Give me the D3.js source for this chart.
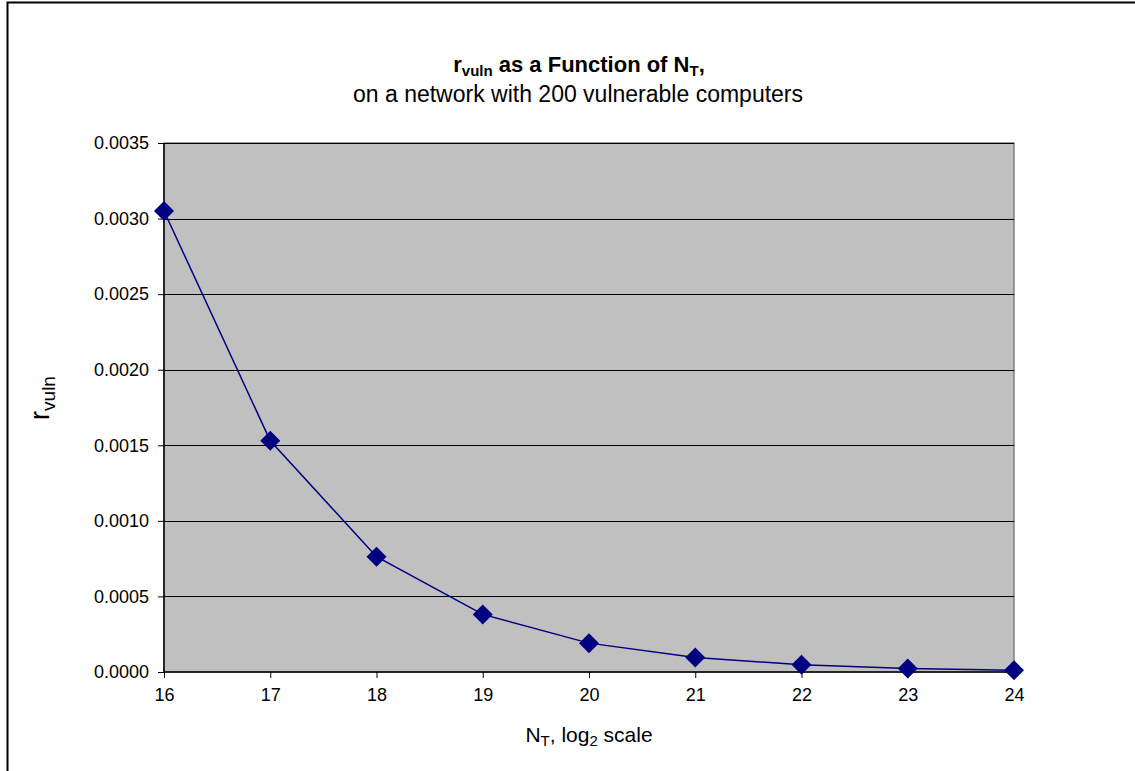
<!DOCTYPE html>
<html>
<head>
<meta charset="utf-8">
<script src="https://cdn.jsdelivr.net/npm/d3@7"></script>
<style>
  body { margin: 0; background: #fff; }
  svg { font-family: "Liberation Sans", Arial, sans-serif; }
</style>
</head>
<body>
<svg id="chart" width="1135" height="771"></svg>
<script>
// data
var nt = [16, 17, 18, 19, 20, 21, 22, 23, 24];
var rvuln = [0.00305, 0.00153, 0.000763, 0.000381, 0.000191, 0.0000954, 0.0000477, 0.0000238, 0.0000119];
var yTicks = [0, 0.0005, 0.001, 0.0015, 0.002, 0.0025, 0.003, 0.0035];

var margin = {top: 143, left: 164, right: 121, bottom: 99},
    width = 1135 - margin.left - margin.right,
    height = 771 - margin.top - margin.bottom;

var svg = d3.select("#chart");

// outer frame
svg.append("rect")
  .attr("x", 7.5).attr("y", 2.5)
  .attr("width", 1140).attr("height", 780)
  .attr("fill", "none").attr("stroke", "#000").attr("stroke-width", 2);

var x = d3.scaleLinear().domain([16, 24]).range([0, width]);
var y = d3.scaleLinear().domain([0, 0.0035]).range([height, 0]);

var g = svg.append("g")
  .attr("transform", "translate(" + margin.left + "," + margin.top + ")");

g.append("rect")
  .attr("width", width).attr("height", height)
  .attr("fill", "#c0c0c0")
  .attr("stroke", "#808080").attr("stroke-width", 1.5);

// gridlines
g.selectAll(".grid")
  .data(yTicks.slice(1))
  .enter().append("line")
  .attr("x1", 0).attr("x2", width)
  .attr("y1", function(d) { return Math.round(y(d)) + 0.5; })
  .attr("y2", function(d) { return Math.round(y(d)) + 0.5; })
  .attr("stroke", "#000").attr("stroke-width", 1);

var yAxis = d3.axisLeft(y).tickValues(yTicks).tickFormat(d3.format(".4f")).tickSize(6).tickPadding(9);
var xAxis = d3.axisBottom(x).tickValues(nt).tickFormat(d3.format("d")).tickSize(6).tickPadding(10);

var ya = g.append("g").call(yAxis);
var xa = g.append("g").attr("transform", "translate(0," + height + ")").call(xAxis);

[ya, xa].forEach(function(a) {
  a.selectAll("path").attr("stroke", "#000").attr("stroke-width", 1.5);
  a.selectAll("line").attr("stroke", "#000");
  a.selectAll("text").attr("font-size", 18).attr("fill", "#000")
    .attr("font-family", "Liberation Sans, Arial, sans-serif");
});
xa.select(".domain").attr("d", "M0,0H" + width);
ya.select(".domain").attr("d", "M0,0V" + height);

// series
var line = d3.line()
  .x(function(d, i) { return x(nt[i]); })
  .y(function(d) { return y(d); });

g.append("path")
  .datum(rvuln)
  .attr("d", line)
  .attr("fill", "none")
  .attr("stroke", "#000080")
  .attr("stroke-width", 1.5);

g.selectAll(".pt")
  .data(rvuln)
  .enter().append("path")
  .attr("class", "pt")
  .attr("d", d3.symbol().type(d3.symbolSquare).size(200))
  .attr("transform", function(d, i) { return "translate(" + x(nt[i]) + "," + y(d) + ") rotate(45)"; })
  .attr("fill", "#000080");

// titles
var title = svg.append("text")
  .attr("x", 579).attr("y", 72)
  .attr("text-anchor", "middle")
  .attr("font-size", 22).attr("font-weight", "bold");
title.append("tspan").text("r");
title.append("tspan").attr("font-size", 15).attr("dy", 4).text("vuln");
title.append("tspan").attr("dy", -4).text(" as a Function of N");
title.append("tspan").attr("font-size", 15).attr("dy", 4).text("T");
title.append("tspan").attr("dy", -4).text(",");

svg.append("text")
  .attr("x", 578).attr("y", 102)
  .attr("text-anchor", "middle")
  .attr("font-size", 23)
  .text("on a network with 200 vulnerable computers");

var xt = svg.append("text")
  .attr("x", 589).attr("y", 742)
  .attr("text-anchor", "middle")
  .attr("font-size", 21);
xt.append("tspan").text("N");
xt.append("tspan").attr("font-size", 15).attr("dy", 4).text("T");
xt.append("tspan").attr("dy", -4).text(", log");
xt.append("tspan").attr("font-size", 15).attr("dy", 4).text("2");
xt.append("tspan").attr("dy", -4).text(" scale");

var yt = svg.append("text")
  .attr("transform", "translate(49,398) rotate(-90)")
  .attr("text-anchor", "middle")
  .attr("font-size", 27);
yt.append("tspan").text("r");
yt.append("tspan").attr("font-size", 19).attr("dy", 6).text("vuln");
</script>
</body>
</html>
